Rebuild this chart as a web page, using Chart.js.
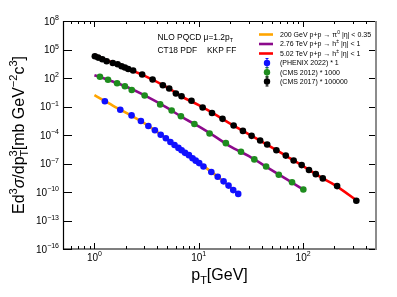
<!DOCTYPE html>
<html>
    <head>
        <title>pT spectra</title>
        <meta charset="UTF-8">
        <style>
            body { margin: 0; background: white; }
            #holder { width: 397px; height: 297px; }
        </style>
    </head>
    <body>
        <div id="holder">
            <canvas id="spectra" width="397" height="297"></canvas>
        </div>

        <script src="https://cdn.jsdelivr.net/npm/chart.js@4.4.1/dist/chart.umd.min.js"></script>
        <script>
            // PHENIX 2022 pi0, 200 GeV (scaled * 1)
            var phenixPt = [1.26, 1.77, 2.27, 2.79, 3.29, 3.80, 4.32, 4.84, 5.35, 5.86, 6.39, 6.85,
                            7.39, 8.05, 8.72, 9.35, 10.1, 11.1, 13.2, 15.2, 17.3, 19.3, 21.4, 23.9];
            var phenixVal = [0.36, 4.6e-2, 1.15e-2, 2.95e-3, 8.7e-4, 3.2e-4, 1.07e-4, 4.6e-5, 1.86e-5, 8.7e-6, 4.4e-6, 2.45e-6,
                             1.32e-6, 7.6e-7, 3.6e-7, 2.0e-7, 1.1e-7, 4.9e-8, 1.29e-8, 4.0e-9, 1.32e-9, 4.7e-10, 1.58e-10, 6.3e-11];

            // CMS 2012, 2.76 TeV (scaled * 1000)
            var cms12Pt = [1.13, 1.35, 1.65, 1.96, 2.28, 3.03, 4.27, 5.50, 6.75, 9.09, 12.7, 18.2,
                           25.4, 34.1, 44.2, 58.5, 78.4, 100.6];
            var cms12Val = [135, 66, 28, 13.5, 5.5, 1.45, 0.166, 3.8e-2, 9.5e-3, 1.45e-3, 1.45e-4, 1.38e-5,
                            1.7e-6, 2.7e-7, 4.9e-8, 6.5e-9, 1.05e-9, 1.86e-10];

            // CMS 2017, 5.02 TeV (scaled * 100000)
            var cms17Pt = [1.01, 1.085, 1.19, 1.31, 1.50, 1.67, 1.82, 1.96, 2.11, 2.35, 2.87, 3.61,
                           4.53, 5.21, 6.04, 6.84, 8.52, 10.9, 13.4, 16.9, 21.6, 26.5, 32.1, 38.8,
                           45.3, 55.5, 68.3, 81.2, 96.9, 113.9, 132.4, 154.5, 212, 324];
            var cms17Val = [1.95e4, 1.41e4, 9.3e3, 5.75e3, 3.8e3, 2.8e3, 1.74e3, 1.26e3, 8.9e2, 6.2e2, 2.3e2, 69,
                            17.4, 7.8, 2.3, 1.2, 0.41, 7.8e-2, 2.1e-2, 5.0e-3, 1.0e-3, 2.7e-4, 8.1e-5, 2.6e-5,
                            1.0e-5, 2.5e-6, 6.8e-7, 2.1e-7, 6.8e-8, 2.1e-8, 7.6e-9, 2.7e-9, 4.2e-10, 1.2e-11];

            // NLO pQCD curves
            var th200Pt = [1, 1.5, 2, 3, 5, 7, 10, 15, 20, 24];
            var th200Val = [1.55, 0.126, 2.3e-2, 1.78e-3, 3.5e-5, 2.0e-6, 1.26e-7, 4.5e-9, 3.2e-10, 5.6e-11];
            var th276Pt = [1, 1.5, 2, 3, 5, 7, 10, 15, 20, 30, 50, 70, 100];
            var th276Val = [195, 42, 12.6, 1.58, 7.1e-2, 7.1e-3, 7.9e-4, 5.0e-5, 6.3e-6, 6.3e-7, 2.0e-8, 2.1e-9, 1.86e-10];
            var th502Pt = [1, 1.5, 2, 3, 5, 7, 10, 15, 20, 30, 50, 70, 100, 150, 200, 340];
            var th502Val = [2.8e4, 4.0e3, 1.12e3, 1.78e2, 10, 1.0, 0.14, 1.12e-2, 1.58e-3, 1.26e-4, 5.0e-6, 5.6e-7, 5.4e-8, 3.2e-9, 5.6e-10, 9.3e-12];

            // axes
            var xTickVals = [1, 10, 100];
            var xTickExp = ['0', '1', '2'];
            var yTickExp = [8, 5, 2, -1, -4, -7, -10, -13, -16];

            // legend rows, pieces with a superscript marked by '^'
            var legendLabels = [
                ['200 GeV p+p \u2192 \u03c0', '^0', ' |\u03b7| < 0.35'],
                ['2.76 TeV p+p \u2192 h', '^\u00b1', ' |\u03b7| < 1'],
                ['5.02 TeV p+p \u2192 h', '^\u00b1', ' |\u03b7| < 1'],
                ['(PHENIX 2022) * 1'],
                ['(CMS 2012) * 1000'],
                ['(CMS 2017) * 100000']
            ];

            var FONT = '"Liberation Sans", Arial, sans-serif';

            function pts(xs, ys) {
                return xs.map(function (x, i) { return {x: x, y: ys[i]}; });
            }

            function lineSet(xs, ys, color) {
                return {data: pts(xs, ys), showLine: true, borderColor: color, borderWidth: 2.6,
                    pointRadius: 0, cubicInterpolationMode: 'monotone', order: 2};
            }
            function pointSet(xs, ys, color) {
                return {data: pts(xs, ys), showLine: false, backgroundColor: color, borderWidth: 0,
                    pointRadius: 3.3, order: 1};
            }

            // text made of pieces: {t, size, dy, italic, stack}
            function richWidth(ctx, parts) {
                var w = 0;
                parts.forEach(function (p) {
                    ctx.font = (p.italic ? 'italic ' : '') + p.size + 'px ' + FONT;
                    if (!p.stack) w += ctx.measureText(p.t).width;
                });
                return w;
            }
            function drawRich(ctx, parts, x, y, align) {
                var w = richWidth(ctx, parts);
                var cx = align === 'center' ? x - w / 2 : (align === 'right' ? x - w : x);
                ctx.textAlign = 'left';
                ctx.textBaseline = 'alphabetic';
                parts.forEach(function (p) {
                    ctx.font = (p.italic ? 'italic ' : '') + p.size + 'px ' + FONT;
                    ctx.fillText(p.t, cx, y + (p.dy || 0));
                    if (!p.stack) cx += ctx.measureText(p.t).width;
                });
            }
            function powParts(exp, size) {
                return [{t: '10', size: size}, {t: String(exp).replace('-', '\u2212'), size: size * 0.7, dy: -size * 0.45}];
            }

            var framePlugin = {
                id: 'frame',
                afterDatasetsDraw: function (chart) {
                    var ctx = chart.ctx;
                    var a = chart.chartArea;
                    var xs = chart.scales.x, ys = chart.scales.y;
                    ctx.save();
                    ctx.fillStyle = '#000';
                    ctx.strokeStyle = '#000';

                    // x ticks bottom and top
                    ctx.lineWidth = 1;
                    ctx.beginPath();
                    for (var d = -1; d <= 2; d++) {
                        for (var m = 1; m <= 9; m++) {
                            var v = m * Math.pow(10, d);
                            if (v < xs.min || v > xs.max) continue;
                            var px = Math.round(xs.getPixelForValue(v)) + 0.5;
                            var len = m === 1 ? 6 : 3;
                            ctx.moveTo(px, a.bottom); ctx.lineTo(px, a.bottom - len);
                            ctx.moveTo(px, a.top); ctx.lineTo(px, a.top + len);
                        }
                    }
                    // y ticks left and right
                    yTickExp.forEach(function (e) {
                        var py = Math.round(ys.getPixelForValue(Math.pow(10, e))) + 0.5;
                        ctx.moveTo(a.left, py); ctx.lineTo(a.left + 9, py);
                        ctx.moveTo(a.right, py); ctx.lineTo(a.right - 7, py);
                    });
                    ctx.stroke();

                    // frame
                    ctx.lineWidth = 1.2;
                    ctx.beginPath();
                    ctx.moveTo(a.right, a.top + 0.5);
                    ctx.lineTo(a.left + 0.5, a.top + 0.5);
                    ctx.lineTo(a.left + 0.5, a.bottom);
                    ctx.lineTo(a.right, a.bottom);
                    ctx.stroke();
                    ctx.strokeStyle = '#8c8c8c';
                    ctx.lineWidth = 2;
                    ctx.beginPath();
                    ctx.moveTo(a.right, a.top);
                    ctx.lineTo(a.right, a.bottom + 1);
                    ctx.stroke();

                    // tick labels
                    xTickVals.forEach(function (v, i) {
                        drawRich(ctx, powParts(xTickExp[i], 10), xs.getPixelForValue(v), a.bottom + 11.5, 'center');
                    });
                    yTickExp.forEach(function (e) {
                        drawRich(ctx, powParts(e, 10), a.left - 4, ys.getPixelForValue(Math.pow(10, e)) + 3.5, 'right');
                    });

                    // axis titles
                    drawRich(ctx, [
                        {t: 'p', size: 16},
                        {t: 'T', size: 11, dy: 4},
                        {t: '[GeV]', size: 16}
                    ], (a.left + a.right) / 2, 280, 'center');

                    ctx.save();
                    ctx.translate(24, (a.top + a.bottom) / 2);
                    ctx.rotate(-Math.PI / 2);
                    drawRich(ctx, [
                        {t: 'Ed', size: 16},
                        {t: '3', size: 11, dy: -7},
                        {t: '\u03c3', size: 16, italic: true},
                        {t: '/dp', size: 16},
                        {t: 'T', size: 11, dy: 4, stack: true},
                        {t: '3', size: 11, dy: -7},
                        {t: '[mb GeV', size: 16},
                        {t: '\u22122', size: 11, dy: -7},
                        {t: 'c', size: 16},
                        {t: '3', size: 11, dy: -7},
                        {t: ']', size: 16}
                    ], 0, 0, 'center');
                    ctx.restore();

                    // annotations
                    drawRich(ctx, [
                        {t: 'NLO PQCD \u03bc=1.2p', size: 8.4},
                        {t: 'T', size: 5.8, dy: 2}
                    ], 157.5, 40, 'left');
                    drawRich(ctx, [{t: 'CT18 PDF', size: 8.4}], 157.5, 53, 'left');
                    drawRich(ctx, [{t: 'KKP FF', size: 8.4}], 207, 53, 'left');

                    // legend
                    var rows = [34.5, 44, 53.5, 63, 72.3, 81.5];
                    var sets = chart.data.datasets;
                    rows.forEach(function (ry, i) {
                        var ds = sets[i];
                        if (i < 3) {
                            ctx.strokeStyle = ds.borderColor;
                            ctx.lineWidth = 2.6;
                            ctx.beginPath();
                            ctx.moveTo(259, ry); ctx.lineTo(273, ry);
                            ctx.stroke();
                        } else {
                            ctx.strokeStyle = ds.backgroundColor;
                            ctx.lineWidth = 1;
                            ctx.beginPath();
                            ctx.moveTo(267, ry - 4.5); ctx.lineTo(267, ry + 4.5);
                            ctx.moveTo(265.5, ry - 4.5); ctx.lineTo(268.5, ry - 4.5);
                            ctx.moveTo(265.5, ry + 4.5); ctx.lineTo(268.5, ry + 4.5);
                            ctx.stroke();
                            ctx.fillStyle = ds.backgroundColor;
                            ctx.beginPath();
                            ctx.arc(267, ry, 3.2, 0, Math.PI * 2);
                            ctx.fill();
                        }
                        ctx.fillStyle = '#000';
                        var parts = legendLabels[i].map(function (s) {
                            if (s.charAt(0) === '^') return {t: s.slice(1), size: 5, dy: -3};
                            return {t: s, size: 7};
                        });
                        drawRich(ctx, parts, 280, ry + 2.4, 'left');
                    });
                    ctx.restore();
                }
            };

            var chartCtx = document.getElementById('spectra').getContext('2d');
            var spectraChart = new Chart(chartCtx, {
                type: 'scatter',
                data: {
                    datasets: [
                        lineSet(th200Pt, th200Val, '#ffa500'),
                        lineSet(th276Pt, th276Val, '#8b0a8b'),
                        lineSet(th502Pt, th502Val, '#ff0000'),
                        pointSet(phenixPt, phenixVal, '#1010ff'),
                        pointSet(cms12Pt, cms12Val, '#1e8c1e'),
                        pointSet(cms17Pt, cms17Val, '#000000')
                    ]
                },
                options: {
                    responsive: false,
                    devicePixelRatio: 1,
                    animation: false,
                    layout: {padding: {left: 63, top: 21, right: 21, bottom: 48}},
                    plugins: {legend: {display: false}, tooltip: {enabled: false}},
                    scales: {
                        x: {type: 'logarithmic', min: 0.5, max: 500, display: false},
                        y: {type: 'logarithmic', min: 1e-16, max: 1e8, display: false}
                    }
                },
                plugins: [framePlugin]
            });
        </script>
    </body>
</html>
